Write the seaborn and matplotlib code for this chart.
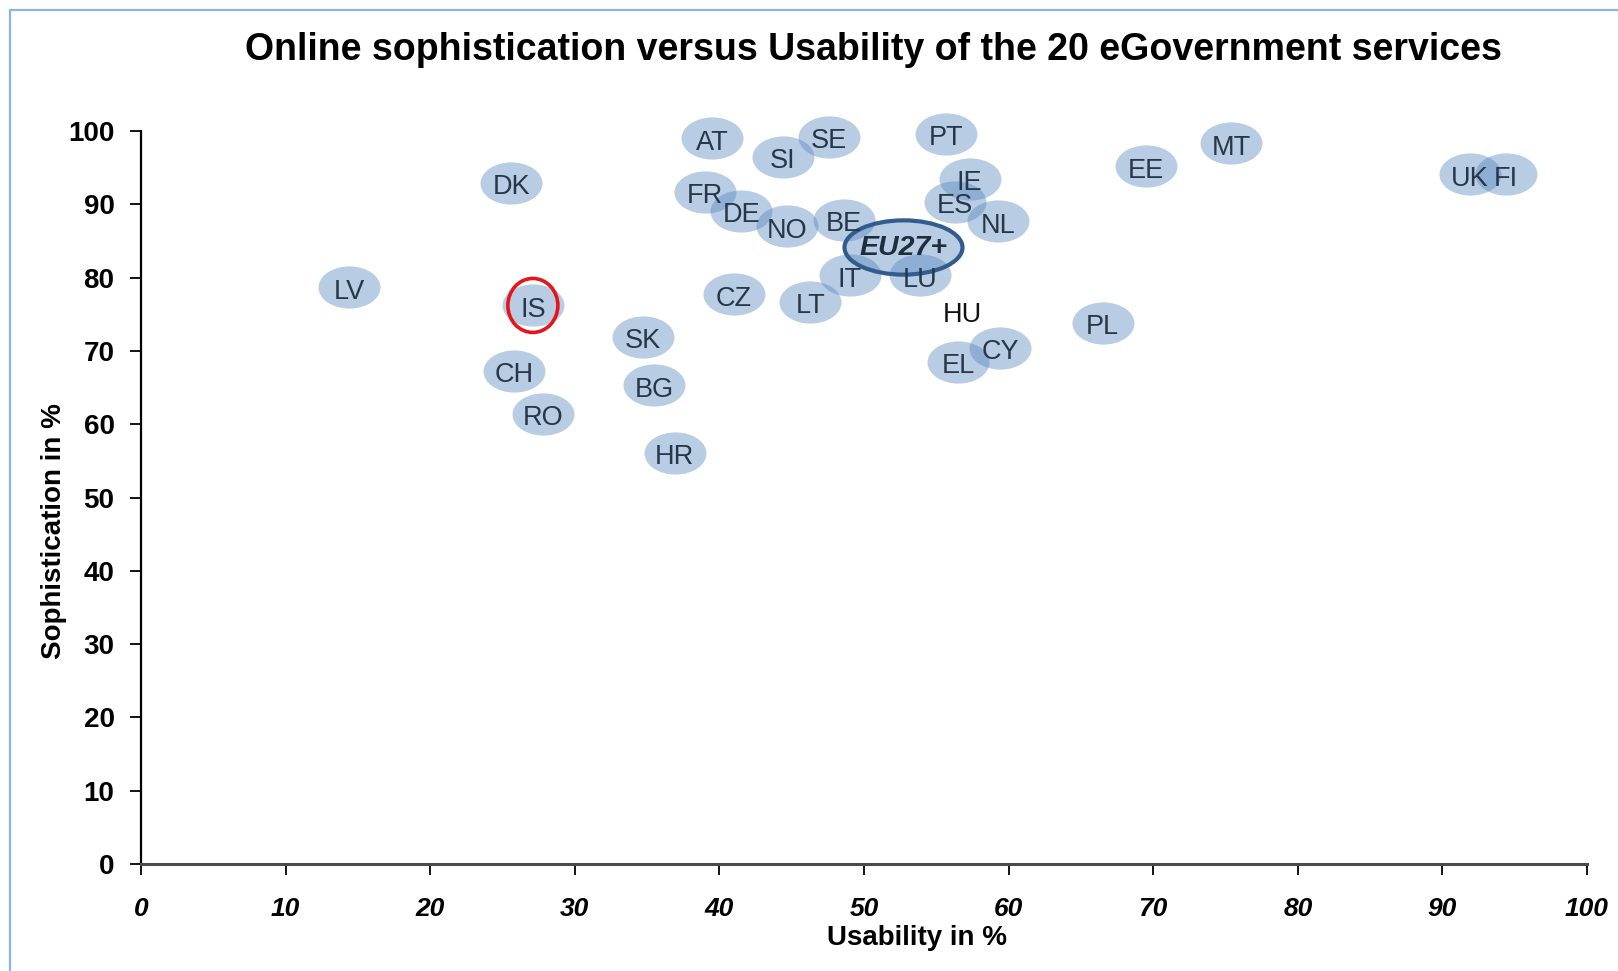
import numpy as np
import pandas as pd
import matplotlib
matplotlib.use("Agg")
import matplotlib.pyplot as plt
from matplotlib.path import Path
from matplotlib.transforms import Affine2D
from matplotlib.patches import Rectangle
import seaborn as sns

# ---------------- data ----------------
countries = ["AT", "SE", "SI", "PT", "MT", "EE", "UK", "FI", "DK", "FR", "DE",
             "NO", "BE", "IE", "ES", "NL", "IT", "LU", "HU", "LV", "IS", "CZ",
             "LT", "PL", "SK", "CY", "EL", "CH", "BG", "RO", "HR"]
usability = [39.5, 47.6, 44.4, 55.7, 75.4, 69.5, 91.9, 94.4, 25.6, 39.0, 41.5,
             44.7, 48.6, 57.3, 56.3, 59.3, 49.0, 53.9, 56.8, 14.4, 27.1, 41.0,
             46.3, 66.5, 34.7, 59.4, 56.5, 25.8, 35.5, 27.8, 36.9]
sophistication = [99.0, 99.2, 96.5, 99.6, 98.3, 95.2, 94.1, 94.1, 92.9, 91.7, 89.1,
                  87.0, 87.9, 93.5, 90.3, 87.7, 80.3, 80.3, 75.5, 78.7, 76.2, 77.7,
                  76.7, 73.8, 71.9, 70.4, 68.5, 67.3, 65.3, 61.4, 56.1]
eu_label = ["EU27+"]
eu_usability = [52.7]
eu_sophistication = [84.2]
highlight = "IS"
no_bubble = ["HU"]

x_ticks = [0, 10, 20, 30, 40, 50, 60, 70, 80, 90, 100]
y_ticks = [0, 10, 20, 30, 40, 50, 60, 70, 80, 90, 100]
title = "Online sophistication versus Usability of the 20 eGovernment services"
x_label = "Usability in %"
y_label = "Sophistication in %"

df = pd.DataFrame({"country": countries, "usability": usability,
                   "sophistication": sophistication})
eu = pd.DataFrame({"country": eu_label, "usability": eu_usability,
                   "sophistication": eu_sophistication})

# ---------------- style ----------------
sns.set_style("white")
plt.rcParams["font.family"] = ["Liberation Sans", "DejaVu Sans"]
plt.rcParams["text.color"] = "black"
plt.rcParams["xtick.color"] = "black"
plt.rcParams["ytick.color"] = "black"

W, H, DPI = 1618, 971, 100
fig = plt.figure(figsize=(W / DPI, H / DPI), dpi=DPI)

# outer light-blue frame (cropped screenshot look)
fig.add_artist(Rectangle((10 / W, -0.1), 1.2, 1 - 10 / H + 0.1,
                         transform=fig.transFigure, fill=False,
                         edgecolor="#8DB3E2", linewidth=1.6))

ax = fig.add_axes([141 / W, 1 - 864 / H, (1587 - 141) / W, (864 - 131) / H])


def ellipse_marker(ratio):
    return Path.unit_circle().transformed(Affine2D().scale(1.0, ratio))


bubble_color = "#4F81BD"
bub = df[~df["country"].isin(no_bubble)]
sns.scatterplot(data=bub, x="usability", y="sophistication", ax=ax,
                marker=ellipse_marker(0.68), s=(62 * 0.72) ** 2,
                color=bubble_color, alpha=0.4, linewidth=0, legend=False,
                clip_on=False, zorder=3)

# EU27+ average bubble
sns.scatterplot(data=eu, x="usability", y="sophistication", ax=ax,
                marker=ellipse_marker(0.46), s=(118 * 0.72) ** 2,
                facecolor=(0.31, 0.506, 0.74, 0.4), edgecolor="#335C8E",
                linewidth=3.0, legend=False, clip_on=False, zorder=4)

# highlight circle around IS
hl = df[df["country"] == highlight]
sns.scatterplot(data=hl, x="usability", y="sophistication", ax=ax,
                marker=ellipse_marker(1.08), s=(54 * 0.72) ** 2,
                facecolor="none", edgecolor="#E8141B",
                linewidth=2.6, legend=False, clip_on=False, zorder=6)

for _, r in df.iterrows():
    col = "#111111" if r["country"] in no_bubble else "#27374A"
    ax.text(r["usability"], r["sophistication"] - 0.6, r["country"],
            ha="center", va="center", fontsize=19.5, color=col,
            zorder=5, clip_on=False)
for _, r in eu.iterrows():
    ax.text(r["usability"], r["sophistication"] - 0.2, r["country"],
            ha="center", va="center", fontsize=20.5, color="#1F2D3D",
            fontweight="bold", fontstyle="italic", zorder=5)

ax.set_xlim(0, 100)
ax.set_ylim(0, 100)
ax.set_xticks(x_ticks)
ax.set_yticks(y_ticks)
ax.set_xticklabels([str(t) for t in x_ticks], fontsize=19, fontweight="bold",
                   fontstyle="italic", color="black")
ax.set_yticklabels([str(t) for t in y_ticks], fontsize=20, fontweight="bold",
                   color="black")
ax.tick_params(axis="x", direction="out", length=8, width=1.3, color="black",
               pad=16, bottom=True)
ax.tick_params(axis="y", direction="out", length=8, width=1.3, color="black",
               pad=11, left=True)
for s in ["top", "right"]:
    ax.spines[s].set_visible(False)
ax.spines["left"].set_color("black")
ax.spines["left"].set_linewidth(1.6)
ax.spines["bottom"].set_color("#4A4A4A")
ax.spines["bottom"].set_linewidth(2.2)
ax.set_xlabel("")
ax.set_ylabel("")

fig.text(917 / W, 1 - 938 / H, x_label, ha="center", va="center",
         fontsize=20, fontweight="bold", color="black")
fig.text(54 / W, 1 - 531 / H, y_label, ha="center", va="center",
         fontsize=20, fontweight="bold", rotation=90, color="black")
fig.text(873 / W, 1 - 50 / H, title, ha="center", va="center",
         fontsize=27, fontweight="bold", color="black")

fig.savefig("out.png", dpi=DPI)
